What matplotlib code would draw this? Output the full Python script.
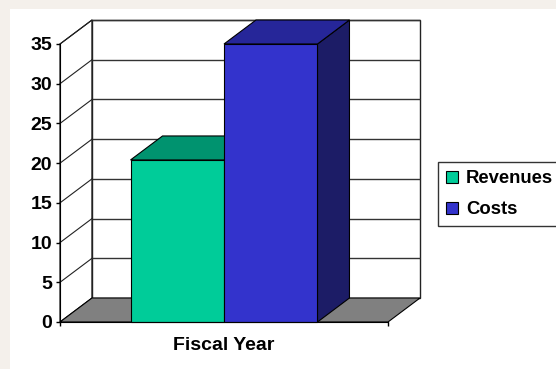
import matplotlib
matplotlib.use("Agg")
import matplotlib.pyplot as plt
from matplotlib.patches import Polygon, Rectangle, Patch

# ---- data ----
categories = ["Fiscal Year"]
series_names = ["Revenues", "Costs"]
revenues = [20.4]
costs = [35]
y_ticks = [0, 5, 10, 15, 20, 25, 30, 35]

front_colors = ["#00CC99", "#3333CC"]
top_colors = ["#00936F", "#262699"]
side_colors = ["#00664D", "#1C1C66"]

plt.rcParams['font.family'] = ['Liberation Sans', 'DejaVu Sans']
plt.rcParams['font.weight'] = 'bold'

W, H = 556, 369
DPI = 100
fig = plt.figure(figsize=(W / DPI, H / DPI), dpi=DPI)
fig.patch.set_facecolor('#F4F0EB')
fig.add_artist(Rectangle((10 / W, 0), 1, (H - 9) / H, transform=fig.transFigure,
                         facecolor='white', edgecolor='none', zorder=-10))

ax = fig.add_axes([60 / W, (H - 322) / H, 328 / W, 278 / H])
ax.set_xlim(-0.5, 0.5)
ax.set_ylim(0, max(y_ticks))
ax.patch.set_visible(False)

# depth offset (oblique projection) in data units
DX = 32 / ax.bbox.width * 1.0
DY = 24 / ax.bbox.height * max(y_ticks)
x0, x1 = -0.5, 0.5
ymax = max(y_ticks)

# walls
left_wall = Polygon([(x0, 0), (x0, ymax), (x0 + DX, ymax + DY), (x0 + DX, DY)],
                    closed=True, facecolor='white', edgecolor='black', lw=0.8,
                    clip_on=False, zorder=1)
ax.add_patch(left_wall)
back_wall = Polygon([(x0 + DX, DY), (x1 + DX, DY), (x1 + DX, ymax + DY), (x0 + DX, ymax + DY)],
                    closed=True, facecolor='white', edgecolor='#222222', lw=1.0,
                    clip_on=False, zorder=1)
ax.add_patch(back_wall)
for v in y_ticks[1:]:
    ax.plot([x0 + DX, x1 + DX], [v + DY, v + DY], color='#333333', lw=1.0,
            clip_on=False, zorder=1.5, solid_capstyle='butt')
    ax.plot([x0, x0 + DX], [v, v + DY], color='#222222', lw=0.8,
            clip_on=False, zorder=1.5)

# floor
floor = Polygon([(x0, 0), (x1, 0), (x1 + DX, DY), (x0 + DX, DY)], closed=True,
                facecolor='#808080', edgecolor='black', lw=0.8, clip_on=False, zorder=2)
ax.add_patch(floor)

# bars
width = 0.285
xc = 0
series = [revenues, costs]
for i, vals in enumerate(series):
    xpos = xc - width / 2 + i * width
    v = vals[0]
    l, r = xpos - width / 2, xpos + width / 2
    z = 3 + i
    side = Polygon([(r, 0), (r, v), (r + DX, v + DY), (r + DX, DY)], closed=True,
                   facecolor=side_colors[i], edgecolor='black', lw=0.8, clip_on=False, zorder=z)
    top = Polygon([(l, v), (r, v), (r + DX, v + DY), (l + DX, v + DY)], closed=True,
                  facecolor=top_colors[i], edgecolor='black', lw=0.8, clip_on=False, zorder=z)
    ax.add_patch(side)
    ax.add_patch(top)
    ax.bar([xpos], [v], width=width, color=front_colors[i], edgecolor='black', lw=0.8,
           clip_on=False, zorder=z + 0.1)

# spines / ticks
for s in ['top', 'right']:
    ax.spines[s].set_visible(False)
ax.spines['left'].set_zorder(10)
ax.spines['bottom'].set_zorder(10)
ax.set_yticks(y_ticks)
ax.set_yticklabels([str(t) for t in y_ticks])
ax.tick_params(axis='y', direction='out', length=3, width=1, labelsize=14, pad=2.5)
ax.set_xticks([x0, x1])
ax.set_xticklabels(['', ''])
ax.tick_params(axis='x', which='major', direction='out', length=3, width=1)
ax.set_xticks([xc], minor=True)
ax.set_xticklabels(categories, minor=True)
ax.tick_params(axis='x', which='minor', length=0, labelsize=14, pad=10.5)
for t in ax.get_yticklabels() + ax.get_xticklabels(minor=True):
    t.set_fontweight('bold')

# legend
handles = [Patch(facecolor=front_colors[i], edgecolor='black', lw=0.8) for i in range(2)]
leg = fig.legend(handles, series_names, loc='upper left',
                 bbox_to_anchor=(438 / W, 1 - 162 / H), bbox_transform=fig.transFigure,
                 frameon=True, fancybox=False, borderaxespad=0,
                 prop={'weight': 'bold', 'size': 13.3}, handlelength=0.65, handleheight=0.65,
                 handletextpad=0.42, labelspacing=0.75, borderpad=0.45)
leg.get_frame().set_edgecolor('#333333')
leg.get_frame().set_linewidth(1.0)
leg.get_frame().set_alpha(1)

fig.savefig('out.png', dpi=DPI)
